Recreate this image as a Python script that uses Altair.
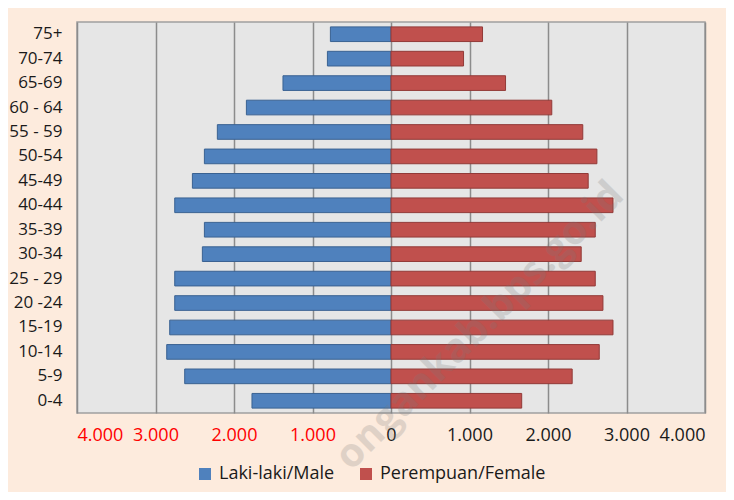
import altair as alt
import pandas as pd

age_groups = ["75+", "70-74", "65-69", "60 - 64", "55 - 59", "50-54", "45-49", "40-44",
              "35-39", "30-34", "25 - 29", "20 -24", "15-19", "10-14", "5-9", "0-4"]
male = [772, 810, 1376, 1842, 2212, 2377, 2530, 2755, 2377, 2403, 2755, 2755, 2819, 2857, 2628, 1771]
female = [1166, 924, 1459, 2048, 2443, 2623, 2512, 2828, 2602, 2423, 2602, 2700, 2828, 2653, 2308, 1665]
series = ["Laki-laki/Male", "Perempuan/Female"]
x_ticks = [-4000, -3000, -2000, -1000, 0, 1000, 2000, 3000, 4000]
watermark = ["ongankab.bps.go.id"]

rows = []
for a, m, f in zip(age_groups, male, female):
    rows.append({"age": a, "sex": series[0], "value": -m})
    rows.append({"age": a, "sex": series[1], "value": f})
df = pd.DataFrame(rows)

FONT = "Open Sans"
FS = 18

bars = alt.Chart(df).mark_bar(strokeWidth=1).encode(
    x=alt.X("value:Q",
            scale=alt.Scale(domain=[-4000, 4000], nice=False),
            axis=alt.Axis(values=x_ticks, title=None, grid=True, domain=False, ticks=False,
                          labelExpr="datum.value == 0 ? '0' : replace(format(abs(datum.value), ','), ',', '.')",
                          labelColor={"condition": {"test": "datum.value < 0", "value": "#FF0000"},
                                      "value": "#1A1A1A"},
                          labelPadding=13, labelFontSize=FS, labelFont=FONT,
                          gridColor="#8C8C8C", gridWidth=1.5)),
    y=alt.Y("age:N", sort=age_groups,
            scale=alt.Scale(paddingInner=0.4, paddingOuter=0.2),
            axis=alt.Axis(title=None, ticks=False, domain=False, labelPadding=15,
                          labelFontSize=17, labelFont=FONT, labelColor="#1A1A1A")),
    color=alt.Color("sex:N",
                    scale=alt.Scale(domain=series, range=["#4F81BD", "#C0504D"]),
                    legend=alt.Legend(title=None, orient="none", direction="horizontal",
                                      legendX=119, legendY=443, symbolType="square",
                                      symbolSize=144, symbolStrokeWidth=0, labelOffset=5,
                                      columnPadding=22, labelFontSize=FS, labelFont=FONT,
                                      labelLimit=400,
                                      labelColor="#1A1A1A", padding=0)),
    stroke=alt.Stroke("sex:N",
                      scale=alt.Scale(domain=series, range=["#3A6292", "#923A38"]),
                      legend=None),
)

wm = alt.Chart(pd.DataFrame({"t": watermark})).mark_text(
    fontSize=40, font=FONT, fontWeight="bold", angle=315, color="#7A7A7A", opacity=0.22,
    align="center", baseline="middle"
).encode(text="t:N", x=alt.value(403), y=alt.value(304))

chart = alt.layer(bars, wm).properties(
    width=628, height=391,
    autosize=alt.AutoSizeParams(type="none"),
    padding={"left": 69, "top": 14, "right": 21, "bottom": 79},
    background="#FDEBDD",
).configure_view(fill="#E6E6E6", stroke="#A0A0A0", strokeWidth=1.5)

chart.save("out.html", embed_options={"renderer": "svg", "actions": False})
